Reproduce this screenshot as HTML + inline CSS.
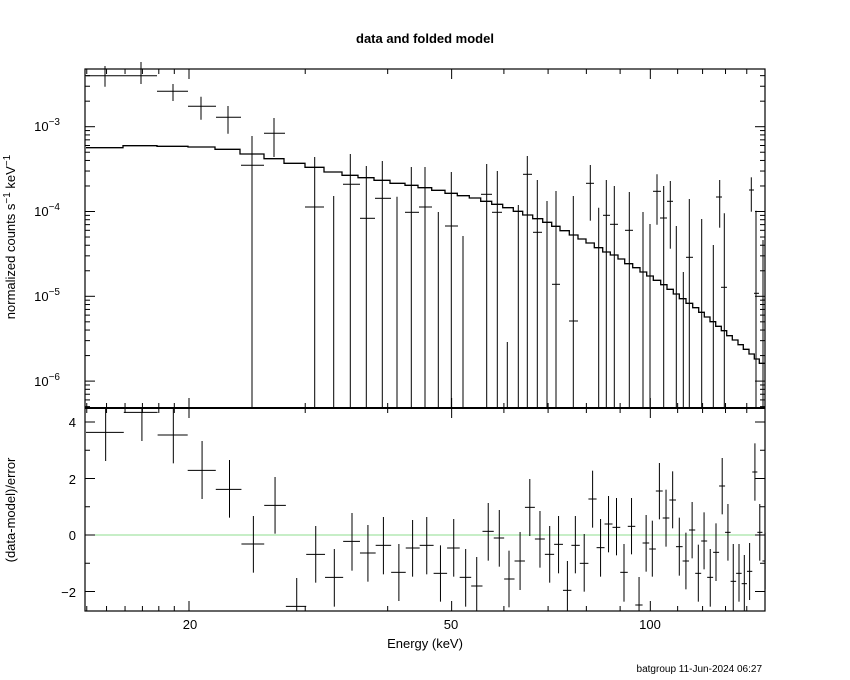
<!DOCTYPE html>
<html><head><meta charset="utf-8"><style>
html,body{margin:0;padding:0;background:#fff;width:850px;height:680px;overflow:hidden}
svg{display:block}
text{font-family:"Liberation Sans",sans-serif;fill:#000}
</style></head><body>
<svg id="s" width="850" height="680" viewBox="0 0 850 680" xmlns="http://www.w3.org/2000/svg">
<text x="425" y="43" font-size="13" text-anchor="middle" font-family="Liberation Mono" font-weight="bold">data and folded model</text>
<text x="425" y="648" font-size="13" text-anchor="middle">Energy (keV)</text>
<text x="190" y="629" font-size="13" text-anchor="middle">20</text>
<text x="451" y="629" font-size="13" text-anchor="middle">50</text>
<text x="650" y="629" font-size="13" text-anchor="middle">100</text>
<text x="762" y="672" font-size="10" text-anchor="end">batgroup 11-Jun-2024 06:27</text>
<g font-size="13" text-anchor="end">
<text x="60" y="131">10<tspan dy="-6" font-size="10">−3</tspan></text>
<text x="60" y="216">10<tspan dy="-6" font-size="10">−4</tspan></text>
<text x="60" y="301">10<tspan dy="-6" font-size="10">−5</tspan></text>
<text x="60" y="386">10<tspan dy="-6" font-size="10">−6</tspan></text>
<text x="76" y="427">4</text>
<text x="76" y="484">2</text>
<text x="76" y="540">0</text>
<text x="76" y="597">−2</text>
</g>
<text transform="translate(15,237) rotate(-90)" font-size="13" text-anchor="middle">normalized counts s<tspan dy="-5" font-size="10">−1</tspan><tspan dy="5"> keV</tspan><tspan dy="-5" font-size="10">−1</tspan></text>
<text transform="translate(15,510) rotate(-90)" font-size="13" text-anchor="middle">(data-model)/error</text>
<line x1="85" y1="535" x2="765" y2="535" stroke="#8fdc8f" stroke-width="1"/>
<g id="g" stroke="#000" fill="none" stroke-width="1"></g>
<rect x="85" y="69" width="680" height="542" fill="none" stroke="#000" stroke-width="1.2"/>
<line x1="85" y1="408" x2="765" y2="408" stroke="#000" stroke-width="2"/>
</svg>
<script>
var g=document.getElementById('g'),h='';
function L(a,b,c,d,w){h+='<line x1="'+a+'" y1="'+b+'" x2="'+c+'" y2="'+d+'"'+(w?' stroke-width="'+w+'"':'')+'/>';}
function X(E){return 189+660*Math.log10(E/20);}
// x ticks
[14,15,16,17,18,19,20,30,40,50,60,70,80,90,100,110,120,130,140].forEach(function(E){
 var x=X(E),m=(E==20||E==50||E==100);var l=m?10:5;
 L(x,69,x,69+l);L(x,408,x,408-l);L(x,408,x,408+l);L(x,611,x,611-l);});
// y ticks top
for(var d=-7;d<=-3;d++)for(var k=1;k<=9;k++){var v=k*Math.pow(10,d);var y=126.7-84.8*(Math.log10(v)+3);
 if(y<69||y>408)continue;var l=k==1?10:5;L(85,y,85+l,y);L(765,y,765-l,y);}
for(var r=-2;r<=4;r++){var y=535-28.25*r;var l=(r%2==0)?10:5;L(85,y,85+l,y);L(765,y,765-l,y);}
// model
var M=[[86,123,147.7],[123,157,145.7],[157,188,146.3],[188,215,147],[215,240,149.3],[240,264,154],[264,284,158.7],[284,305,163.3],[305,324,167.3],[324,342,172],[342,358,175.3],[358,374,177.7],[374,390,180.3],[390,405,183.3],[405,418,185.3],[418,431.7,187.7],[431.7,445,190.3],[445,457.3,193.3],[457.3,469.3,195.7],[469.3,480.7,198],[480.7,491.7,201.3],[491.7,502.7,204.3],[502.7,513.3,207.7],[513.3,522.7,211.3],[522.7,532.7,215],[532.7,542.7,218.7],[542.7,551.7,222.3],[551.7,560,226.3],[560,569.3,230.7],[569.3,578,235],[578,586,239],[586,594.3,243],[594.3,602.7,247.7],[602.7,610.3,252],[610.3,618,255],[618,624.7,259],[624.7,632.7,263.7],[632.7,640,267.7],[640,646.7,272],[646.7,653.3,276],[653.3,660.7,280.3],[660.7,667,284.7],[667,673.3,289.3],[673.3,679.3,294],[679.3,686,298.7],[686,692.7,303.3],[692.7,698.7,307.7],[698.7,704.3,312.3],[704.3,710,317],[710,715.7,321.7],[715.7,721.3,326.3],[721.3,726.7,330.7],[726.7,732.3,335.7],[732.3,738,340],[738,743.3,344.7],[743.3,749,349.3],[749,754.3,354],[754.3,759.3,359],[759.3,765,363.3]];
var p='M'+M[0][0]+' '+M[0][2];M.forEach(function(s){p+=' L'+s[0]+' '+s[2]+' L'+s[1]+' '+s[2];});
h+='<path d="'+p+'" stroke-width="1.3"/>';
// top data [x1,x2,xc,y,top,bot]
var T=[[86,124,105,75.7,66,86.7],[124,157,141,75.7,62,84],[157,188,173,91.3,84,101],[188,216,201,106.3,96.7,119.7],[216,241,228,117.3,106,133.7],[241,264,252,165.3,136,408],[264,285,274,133.3,118,157],
[305,324,314.7,207,157,408],[0,0,333.7,null,196,408],[343,360,350.3,184.3,154,408],[360,375,366.3,218.3,166,408],[375,391,382.3,198.3,161,408],[0,0,397,null,196.7,408],[405,419,411.3,212.3,167,408],[419,432,425,207,167,408],[0,0,438.3,null,212,408],[445,458,451.3,226,172,408],[0,0,463,null,236,408],[481,492,486.7,194.3,164,408],[492,502,497.3,212.3,171,408],[0,0,507.3,null,342,408],[0,0,518.3,null,205,408],[523,532,527.3,174.3,156,408],[533,542,537.3,232.3,180,408],[0,0,547,null,201,408],[552,560,556,284.3,191,408],[569,578,573.3,321,196,408],[586,594,590.3,183.3,165,220.7],[0,0,598.7,null,207.7,408],[603,610,606.3,215.3,180,408],[610,618,614.3,224.3,186,408],[625,633,629.3,230.3,192,408],[0,0,643,null,212,408],[0,0,650,null,224,408],[653,661,657,191.3,174.3,224.7],[660,667,663.7,218,186,408],[667,673,670.3,201.3,181,248.7],[0,0,676.3,null,226,408],[0,0,683.3,null,272,408],[686,693,689.3,257.3,199,408],[0,0,701.7,null,219,408],[0,0,713.3,null,245,408],[716,722,719.7,197,180,227.7],[721,727,724.3,287.3,213.3,408],[749,754,751.3,190,177.3,211.7],[754,759,756,293.3,210.7,408],[762,765,763,300,240,408]];
T.forEach(function(t){L(t[2],t[4],t[2],t[5]);if(t[3]!=null)L(t[0],t[3],t[1],t[3]);});
// residuals
var R=[[58,97,25,183],[140,37,25,123],[211,105,25,190],[276,211,123,297],[338,268,180,353],[392,432,348,518],[441,316,231,401],[490,619,534,633],[533,463,378,548],[575,532,447,620],[615,424,339,512],[651,459,375,545],[686,436,351,523],[721,517,432,603],[752,444,360,530],[784,436,351,523],[815,520,436,605],[845,444,357,530],[872,532,447,620],[897,558,471,633],[923,394,309,482],[948,414,330,500],[970,537,452,622],[995,483,396,570],[1017,322,237,408],[1040,417,333,503],[1062,463,378,548],[1082,433,348,520],[1102,571,483,633],[1120,436,348,520],[1140,490,402,575],[1159,297,212,383],[1177,443,357,530],[1195,372,288,457],[1213,382,294,466],[1230,517,432,605],[1247,379,294,463],[1264,615,531,633],[1280,429,345,515],[1294,447,362,530],[1310,273,189,358],[1325,354,269,440],[1340,300,214,385],[1355,440,353,527],[1370,483,398,568],[1384,390,306,475],[1398,520,434,605],[1411,423,337,508],[1425,532,447,620],[1438,457,370,543],[1452,258,174,343],[1465,397,312,482],[1477,544,432,633],[1490,520,432,605],[1502,551,465,633],[1514,514,429,600],[1526,216,130,302],[1537,397,312,482],[1549,483,398,568]];
var xs=R.map(function(r){return 80+r[0]/2.261;});
R.forEach(function(r,i){var x=xs[i];var a=i==0?86:(xs[i-1]+x)/2;var b=i==R.length-1?765:(xs[i+1]+x)/2;
 var y=400+r[1]/3;if(y>408&&y<611)L(a,y,b,y);L(x,Math.max(408,400+r[2]/3),x,Math.min(611,400+r[3]/3));});
g.innerHTML=h;
</script>
</body></html>
